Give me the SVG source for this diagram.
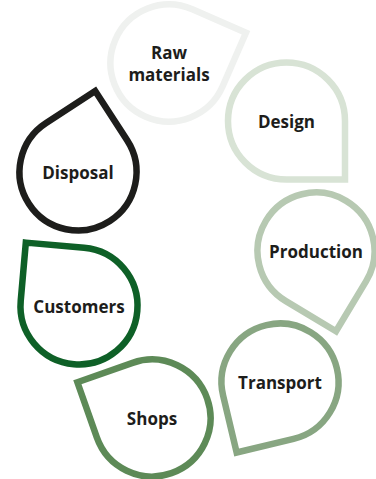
<svg xmlns="http://www.w3.org/2000/svg" width="376" height="479" viewBox="0 0 376 479">
<defs>
<style>
.drop{fill:none;stroke-width:6.5;stroke-linejoin:miter}
.lbl{font-family:"Open Sans","Noto Sans","Liberation Sans",sans-serif;font-weight:700;font-size:17px;fill:#1d1d1b;text-anchor:middle;dominant-baseline:central}
</style>
<path id="drop" d="M58.5,58.5 L0,58.5 A58.5,58.5 0 0 1 -58.5,0 A58.5,58.5 0 0 1 0,-58.5 A58.5,58.5 0 0 1 58.5,0 Z"/>
</defs>
<rect width="376" height="479" fill="#ffffff"/>
<g id="connectors"></g>
<g id="raw-materials">
<use href="#drop" class="drop" stroke="#eff1ef" transform="translate(169,63) rotate(-66.5)"/>
<text class="lbl" x="169" y="52">Raw</text>
<text class="lbl" x="169" y="74">materials</text>
</g>
<g id="design">
<use href="#drop" class="drop" stroke="#d8e3d5" transform="translate(286.5,121)"/>
<text class="lbl" x="286.5" y="121">Design</text>
</g>
<g id="production">
<use href="#drop" class="drop" stroke="#b7c9b2" transform="translate(316,251) rotate(31)"/>
<text class="lbl" x="316" y="251">Production</text>
</g>
<g id="transport">
<use href="#drop" class="drop" stroke="#88a682" transform="translate(280,382) rotate(76.6)"/>
<text class="lbl" x="280" y="382">Transport</text>
</g>
<g id="shops">
<use href="#drop" class="drop" stroke="#5d8a57" transform="translate(152,418) rotate(160.6)"/>
<text class="lbl" x="152" y="418">Shops</text>
</g>
<g id="customers">
<use href="#drop" class="drop" stroke="#0e6027" transform="translate(79,306) rotate(185)"/>
<text class="lbl" x="79" y="306">Customers</text>
</g>
<g id="disposal">
<use href="#drop" class="drop" stroke="#1d1d1b" transform="translate(78,172) rotate(237)"/>
<text class="lbl" x="78" y="172">Disposal</text>
</g>
</svg>
